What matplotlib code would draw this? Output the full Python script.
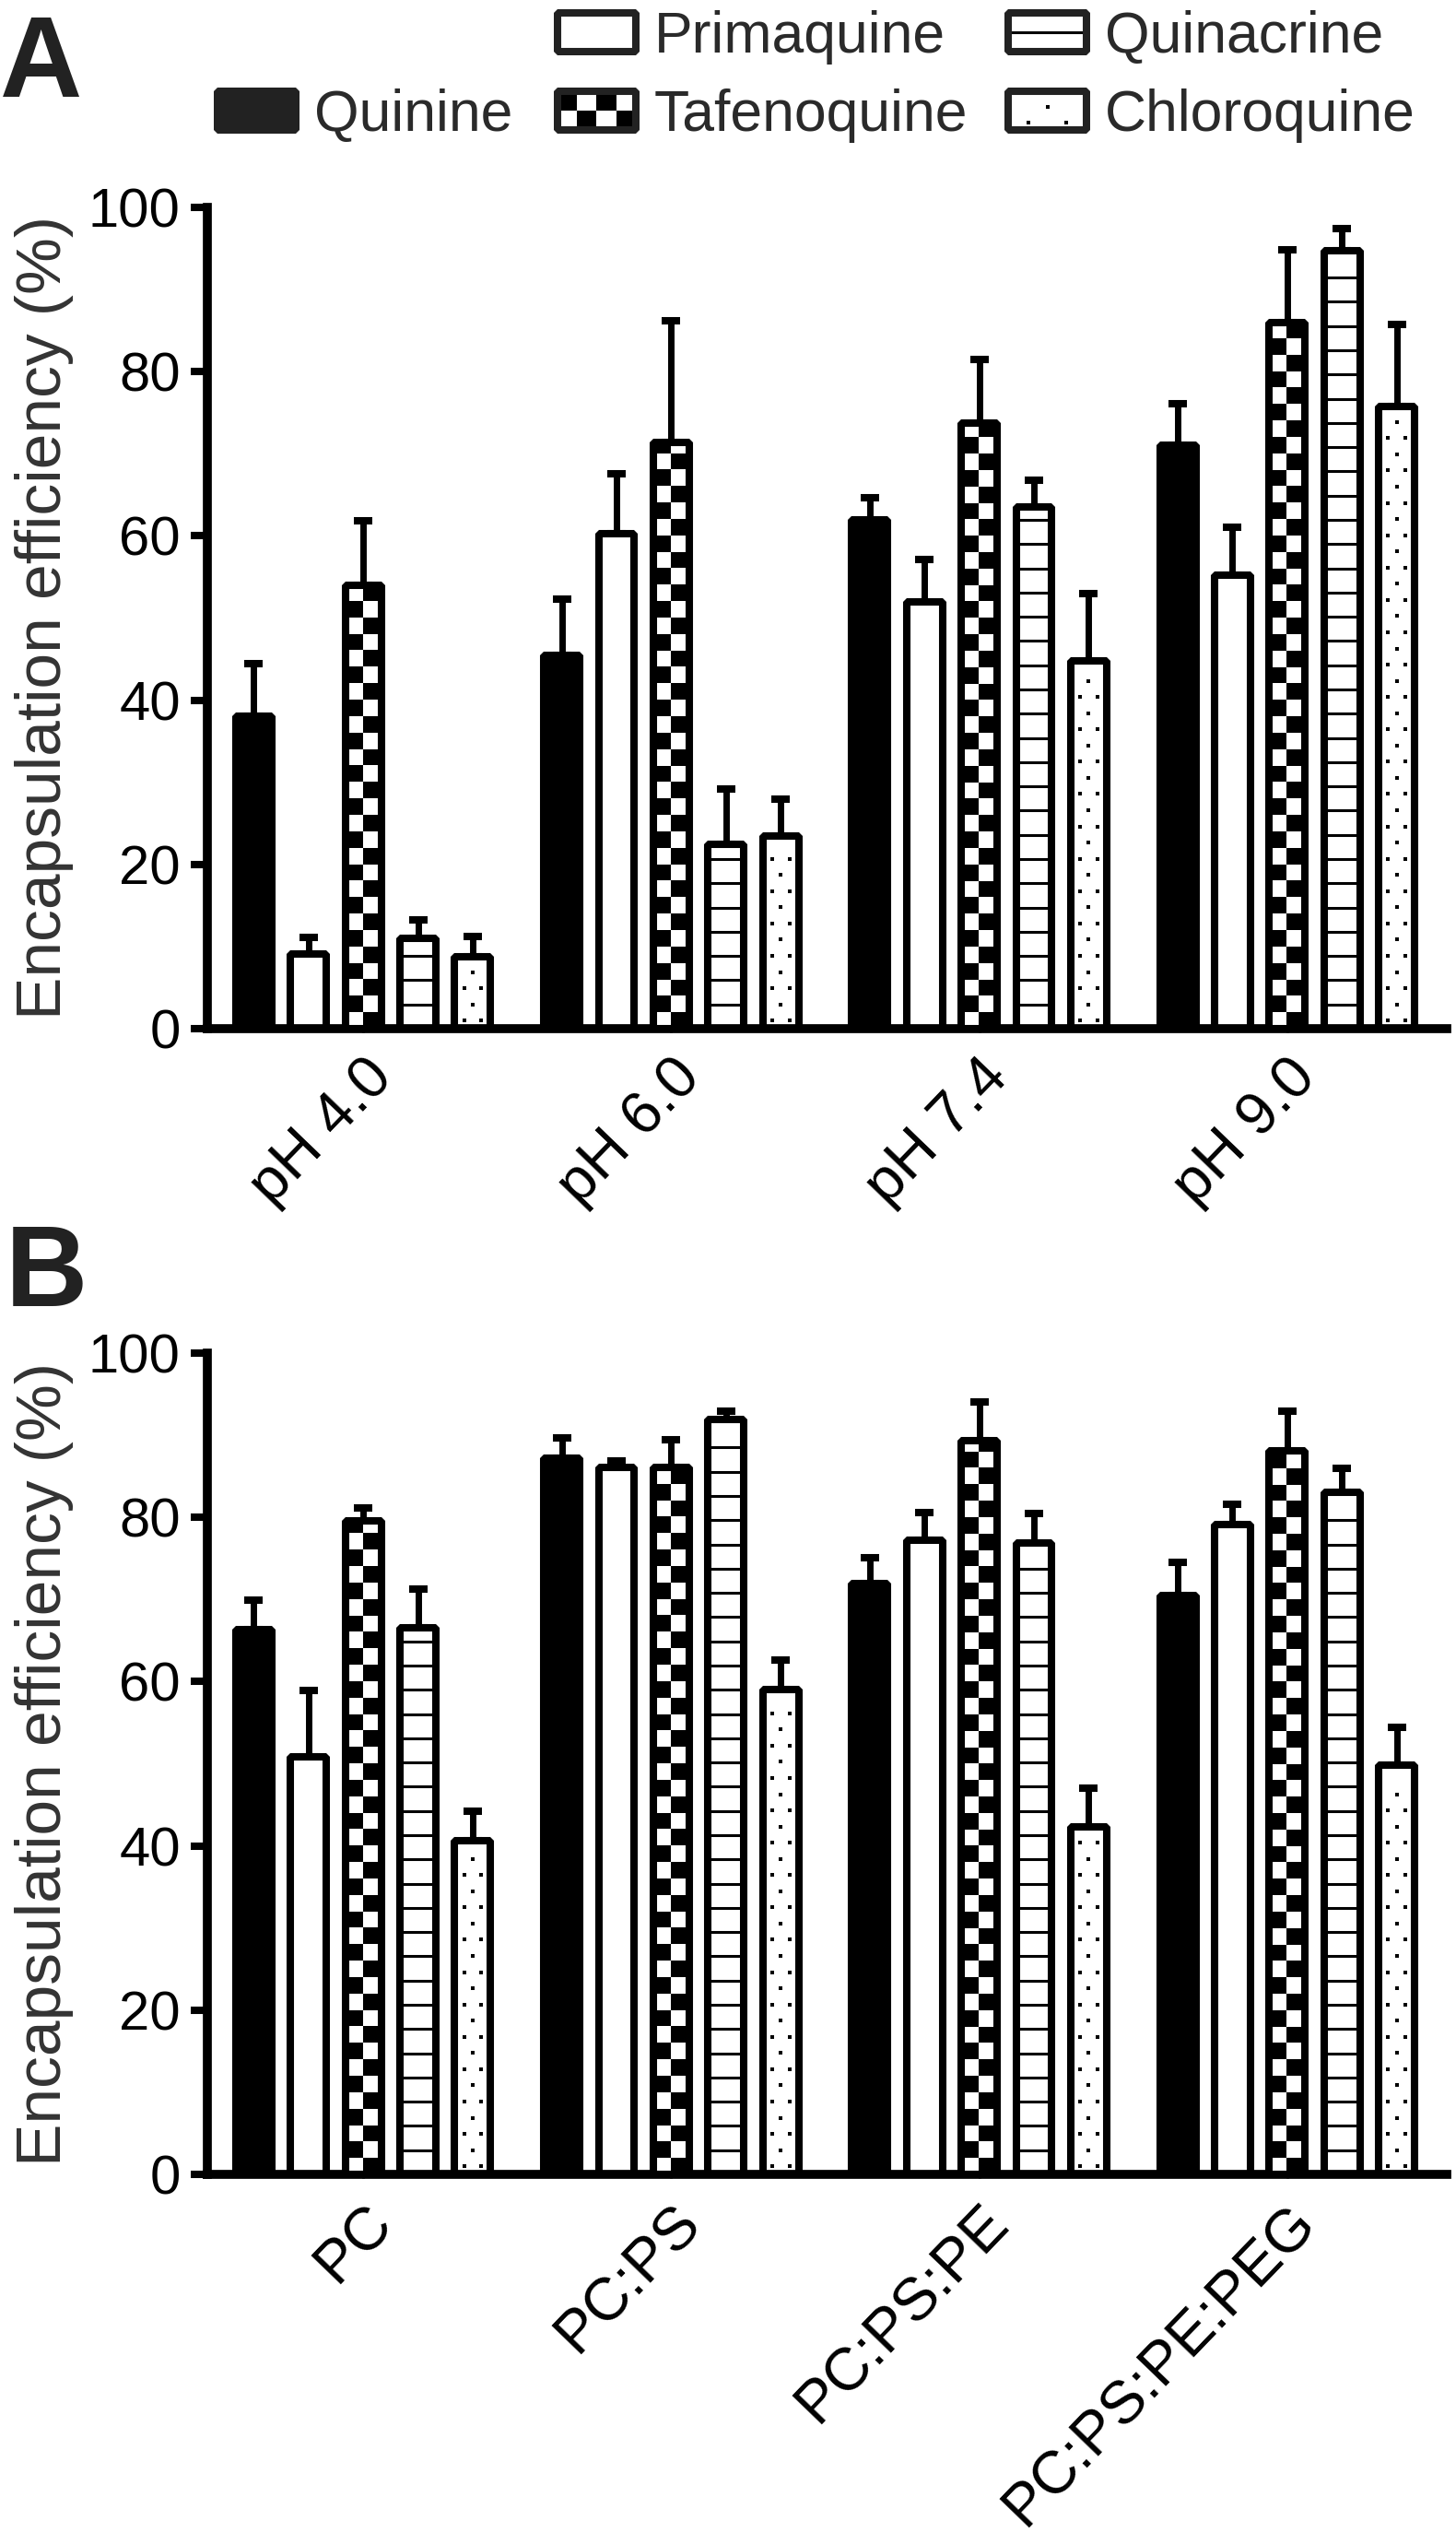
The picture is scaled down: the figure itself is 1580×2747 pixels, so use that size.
import numpy as np
import matplotlib
matplotlib.use('Agg')
import matplotlib.pyplot as plt
from matplotlib.colors import ListedColormap
from matplotlib.patches import Rectangle

plt.rcParams['font.family'] = ['Liberation Sans', 'DejaVu Sans']

drugs = ['Quinine', 'Primaquine', 'Tafenoquine', 'Quinacrine', 'Chloroquine']
kinds = ['solid', 'open', 'checker', 'stripes', 'dots']

# panel A: pH
ph_labels = ['pH 4.0', 'pH 6.0', 'pH 7.4', 'pH 9.0']
ph_quinine = [38.0, 45.5, 62.0, 71.0]
ph_primaquine = [9.1, 60.3, 52.0, 55.2]
ph_tafenoquine = [54.0, 71.4, 73.7, 86.0]
ph_quinacrine = [11.0, 22.4, 63.5, 94.7]
ph_chloroquine = [8.8, 23.5, 44.8, 75.8]
ph_quinine_err = [6.4, 6.8, 2.6, 5.1]
ph_primaquine_err = [2.0, 7.3, 5.1, 5.9]
ph_tafenoquine_err = [7.8, 14.8, 7.8, 8.8]
ph_quinacrine_err = [2.2, 6.8, 3.3, 2.7]
ph_chloroquine_err = [2.4, 4.4, 8.2, 9.9]

# panel B: lipid composition
lip_labels = ['PC', 'PC:PS', 'PC:PS:PE', 'PC:PS:PE:PEG']
lip_quinine = [66.3, 87.2, 71.9, 70.5]
lip_primaquine = [50.8, 86.1, 77.2, 79.1]
lip_tafenoquine = [79.6, 86.1, 89.3, 88.1]
lip_quinacrine = [66.5, 91.9, 76.9, 83.1]
lip_chloroquine = [40.6, 59.0, 42.3, 49.8]
lip_quinine_err = [3.6, 2.5, 3.2, 4.0]
lip_primaquine_err = [8.1, 0.8, 3.4, 2.5]
lip_tafenoquine_err = [1.6, 3.3, 4.7, 4.8]
lip_quinacrine_err = [4.8, 1.0, 3.6, 2.9]
lip_chloroquine_err = [3.6, 3.6, 4.7, 4.6]

FW, FH = 1580, 2747
fig = plt.figure(figsize=(FW / 100, FH / 100), dpi=100)

bw = ListedColormap(['white', 'black'])
pitch = 0.1777
bar_w = 0.1164
edge_lw = 5.8


def add_pattern(ax, p, kind, cell_h, ncols, stripe_step, dot_step):
    x0, y0, w, h = p.get_x(), p.get_y(), p.get_width(), p.get_height()
    if kind == 'checker':
        nrows = int(np.ceil(h / cell_h))
        arr = np.add.outer(np.arange(nrows), np.arange(ncols)) % 2
        im = ax.imshow(arr, cmap=bw, vmin=0, vmax=1, origin='lower',
                       extent=(x0, x0 + w, y0, y0 + nrows * cell_h),
                       interpolation='nearest', aspect='auto', zorder=3)
        im.set_clip_path(p)
    elif kind == 'stripes':
        ys = np.arange(y0 + stripe_step, y0 + h - 0.3 * stripe_step, stripe_step)
        ax.hlines(ys, x0, x0 + w, color='black', linewidth=2.2, zorder=3)
    elif kind == 'dots':
        cx = x0 + w / 2
        d = w * 0.24
        xs, ys = [], []
        for k, yy in enumerate(np.arange(y0 + dot_step / 2, y0 + h - dot_step * 0.9, dot_step)):
            if k % 2 == 0:
                xs += [cx - d, cx + d]
                ys += [yy, yy]
            else:
                xs.append(cx)
                ys.append(yy)
        ax.scatter(xs, ys, marker='s', s=11, color='black', linewidths=0, zorder=3)


def draw_panel(ax, labels, means, errs):
    x = np.arange(len(labels))
    for j, kind in enumerate(kinds):
        pos = x + (j - 2) * pitch
        ax.errorbar(pos, means[j], yerr=[np.zeros(len(x)), errs[j]], fmt='none',
                    ecolor='black', elinewidth=5, capsize=7, capthick=5.8, zorder=1)
        face = 'black' if kind == 'solid' else 'white'
        fills = ax.bar(pos, means[j], width=bar_w, color=face, edgecolor='none', zorder=2)
        ax.bar(pos, means[j], width=bar_w, fill=False, edgecolor='black',
               linewidth=edge_lw, joinstyle='bevel', zorder=4)
        for p in fills:
            add_pattern(ax, p, kind, 2.0, 2, 2.95, 1.97)

    ax.set_xlim(-0.506, 3.518)
    ax.set_ylim(0, 100)
    ax.set_yticks(np.arange(0, 101, 20))
    ax.set_xticks(x)
    ax.set_xticklabels(labels, rotation=46, ha='right', rotation_mode='anchor')
    for s in ['top', 'right']:
        ax.spines[s].set_visible(False)
    for s in ['left', 'bottom']:
        ax.spines[s].set_linewidth(7)
        ax.spines[s].set_capstyle('projecting')
    ax.tick_params(axis='y', length=13, width=5.8, labelsize=43, pad=8)
    ax.tick_params(axis='x', length=3, width=2, labelsize=47, pad=13)
    ax.set_ylabel('Encapsulation efficiency (%)', fontsize=50, color='#333333')
    ax.yaxis.set_label_coords(-0.108, 0.5)


axA = fig.add_axes([225 / FW, 1 - 1116 / FH, 1345 / FW, 891 / FH])
draw_panel(axA, ph_labels,
           [ph_quinine, ph_primaquine, ph_tafenoquine, ph_quinacrine, ph_chloroquine],
           [ph_quinine_err, ph_primaquine_err, ph_tafenoquine_err, ph_quinacrine_err, ph_chloroquine_err])

axB = fig.add_axes([225 / FW, 1 - 2359 / FH, 1345 / FW, 891 / FH])
draw_panel(axB, lip_labels,
           [lip_quinine, lip_primaquine, lip_tafenoquine, lip_quinacrine, lip_chloroquine],
           [lip_quinine_err, lip_primaquine_err, lip_tafenoquine_err, lip_quinacrine_err, lip_chloroquine_err])

fig.text(0, 1 - 105 / FH, 'A', fontsize=89, fontweight='bold', color='#222222', ha='left', va='baseline')
fig.text(6 / FW, 1 - 1417 / FH, 'B', fontsize=89, fontweight='bold', color='#222222', ha='left', va='baseline')

# legend drawn by hand: two rows, three columns
legend_spots = {
    'Quinine': (232, 95),
    'Primaquine': (601, 10),
    'Tafenoquine': (601, 95),
    'Quinacrine': (1090, 10),
    'Chloroquine': (1090, 95),
}
KW, KH = 93, 50
for name, kind in zip(drugs, kinds):
    left, top = legend_spots[name]
    lax = fig.add_axes([left / FW, 1 - (top + KH) / FH, KW / FW, KH / FH])
    lax.set_xlim(0, KW)
    lax.set_ylim(0, KH)
    lax.axis('off')
    face = '#222222' if kind == 'solid' else 'white'
    r = Rectangle((4, 4), KW - 8, KH - 8, facecolor=face, edgecolor='none', zorder=2)
    lax.add_patch(r)
    add_pattern(lax, r, kind, 21, 4, 21, 17)
    lax.add_patch(Rectangle((4, 4), KW - 8, KH - 8, fill=False, edgecolor='#222222',
                            linewidth=edge_lw, joinstyle='bevel', zorder=4))
    fig.text((left + KW + 16) / FW, 1 - (top + KH - 3) / FH, name, fontsize=45,
             color='#2a2a2a', ha='left', va='baseline')

fig.savefig('out.png', dpi=100)
